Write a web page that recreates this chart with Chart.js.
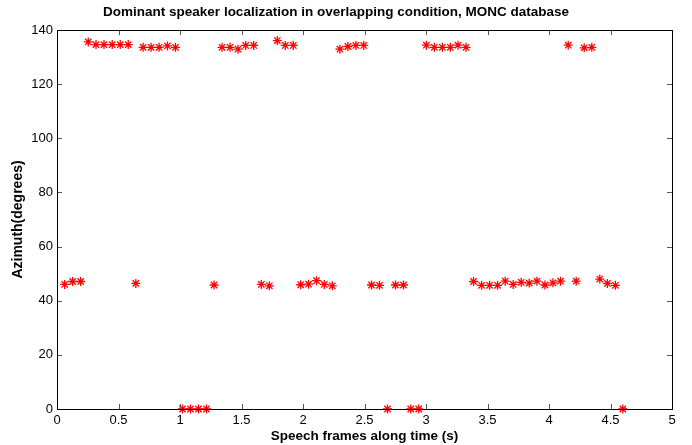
<!DOCTYPE html>
<html>
<head>
<meta charset="utf-8">
<script src="https://cdn.jsdelivr.net/npm/chart.js@4/dist/chart.umd.min.js"></script>
<style>
  body { margin: 0; background: #fff; }
  #wrap { width: 692px; height: 445px; }
</style>
</head>
<body>
<div id="wrap"><canvas id="myChart" width="692" height="445"></canvas></div>
<script>
// speaker near 134 degrees
var topTimes = [0.254, 0.317, 0.382, 0.449, 0.514, 0.579,
                0.700, 0.765, 0.830, 0.898, 0.963,
                1.342, 1.407, 1.472, 1.534, 1.599,
                1.791, 1.856, 1.921,
                2.300, 2.365, 2.430, 2.494,
                3.003, 3.068, 3.133, 3.198, 3.260, 3.325,
                4.156, 4.286, 4.348];
var topAzimuth = [135.6, 134.6, 134.6, 134.6, 134.6, 134.6,
                  133.6, 133.6, 133.6, 134.1, 133.6,
                  133.6, 133.6, 132.9, 134.3, 134.3,
                  136.1, 134.3, 134.3,
                  132.9, 133.9, 134.3, 134.3,
                  134.4, 133.6, 133.6, 133.6, 134.4, 133.6,
                  134.4, 133.4, 133.6];

// speaker near 46 degrees
var midTimes = [0.062, 0.127, 0.192, 0.641, 1.277, 1.661, 1.726,
                1.981, 2.045, 2.110, 2.173, 2.238,
                2.557, 2.622, 2.752, 2.817,
                3.387, 3.452, 3.517, 3.582, 3.644, 3.709, 3.774, 3.839,
                3.902, 3.967, 4.032, 4.094, 4.221, 4.413, 4.475, 4.540];
var midAzimuth = [46.0, 47.1, 47.1, 46.4, 45.8, 46.0, 45.5,
                  45.9, 46.1, 47.4, 46.0, 45.5,
                  45.8, 45.7, 45.8, 45.8,
                  47.1, 45.7, 45.7, 45.7, 47.2, 46.0, 46.8, 46.5,
                  47.2, 45.8, 46.6, 47.2, 47.2, 48.0, 46.4, 45.7];

// frames at 0 degrees
var zeroTimes = [1.020, 1.085, 1.150, 1.215, 2.687, 2.876, 2.941, 4.600];
var zeroAzimuth = [0, 0, 0, 0, 0, 0, 0, 0];

var xTicks = [0, 0.5, 1, 1.5, 2, 2.5, 3, 3.5, 4, 4.5, 5];
var yTicks = [0, 20, 40, 60, 80, 100, 120, 140];

var points = [];
function addPoints(ts, az) {
    for (var i = 0; i < ts.length; i++) {
        points.push({ x: ts[i], y: az[i] });
    }
}
addPoints(topTimes, topAzimuth);
addPoints(midTimes, midAzimuth);
addPoints(zeroTimes, zeroAzimuth);

Chart.defaults.font.family = '"Liberation Sans", Arial, Helvetica, sans-serif';
Chart.defaults.color = '#000';

// matlab style box with inward ticks
var boxPlugin = {
    id: 'boxTicks',
    afterDatasetsDraw: function (chart) {
        var ctx = chart.ctx, a = chart.chartArea;
        var xs = chart.scales.x, ys = chart.scales.y;
        ctx.save();
        ctx.lineWidth = 1;
        ctx.strokeStyle = '#555';
        ctx.beginPath();
        for (var i = 0; i < xTicks.length; i++) {
            var px = Math.round(xs.getPixelForValue(xTicks[i])) + 0.5;
            ctx.moveTo(px, a.bottom); ctx.lineTo(px, a.bottom - 5);
            ctx.moveTo(px, a.top); ctx.lineTo(px, a.top + 5);
        }
        for (var j = 0; j < yTicks.length; j++) {
            var py = Math.round(ys.getPixelForValue(yTicks[j])) + 0.5;
            ctx.moveTo(a.left, py); ctx.lineTo(a.left + 5, py);
            ctx.moveTo(a.right, py); ctx.lineTo(a.right - 5, py);
        }
        ctx.stroke();
        ctx.strokeStyle = '#000';
        ctx.strokeRect(Math.round(a.left) + 0.5, Math.round(a.top) + 0.5,
            Math.round(a.right - a.left), Math.round(a.bottom - a.top));
        ctx.restore();
    }
};

var ctx = document.getElementById("myChart");
var myChart = new Chart(ctx, {
    type: 'scatter',
    data: {
        datasets: [
            {
                data: points,
                pointStyle: 'star',
                pointRadius: 4.5,
                pointHoverRadius: 4.5,
                borderColor: 'red',
                backgroundColor: 'red',
                borderWidth: 1.3
            }
        ]
    },
    options: {
        responsive: false,
        animation: false,
        clip: false,
        layout: { padding: { left: 0, right: 20, top: 0, bottom: 0 } },
        plugins: {
            legend: { display: false },
            tooltip: { enabled: false },
            title: {
                display: true,
                text: 'Dominant speaker localization in overlapping condition, MONC database',
                font: { size: 13.5, weight: 'bold' },
                color: '#000',
                padding: { top: 4, bottom: 9.8 }
            }
        },
        scales: {
            x: {
                type: 'linear',
                min: 0,
                max: 5,
                afterFit: function (s) { s.height = 36; },
                afterBuildTicks: function (s) {
                    s.ticks = xTicks.map(function (v) { return { value: v }; });
                },
                grid: { display: false, drawTicks: false, tickLength: 0 },
                border: { display: false },
                ticks: {
                    font: { size: 13 },
                    padding: 4,
                    maxRotation: 0,
                    callback: function (v) { return String(v); }
                },
                title: {
                    display: true,
                    text: 'Speech frames along time (s)',
                    font: { size: 13.5, weight: 'bold' },
                    padding: { top: 0, bottom: 1 }
                }
            },
            y: {
                type: 'linear',
                min: 0,
                max: 140,
                afterFit: function (s) { s.width = 57; },
                afterBuildTicks: function (s) {
                    s.ticks = yTicks.map(function (v) { return { value: v }; });
                },
                grid: { display: false, drawTicks: false, tickLength: 0 },
                border: { display: false },
                ticks: { font: { size: 13 }, padding: 4 },
                title: {
                    display: true,
                    text: 'Azimuth(degrees)',
                    font: { size: 14, weight: 'bold' },
                    padding: { top: 10, bottom: 0 }
                }
            }
        }
    },
    plugins: [boxPlugin]
});
</script>
</body>
</html>
